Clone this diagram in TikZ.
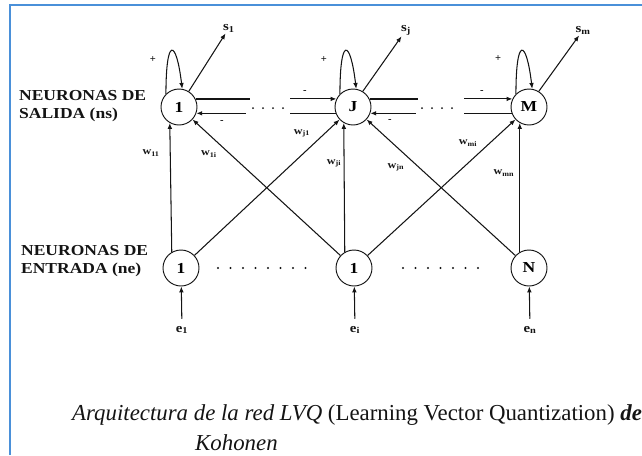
\documentclass[tikz,border=0pt]{standalone}
\usepackage{fontspec}
\setmainfont{Liberation Serif}
\newfontfamily\widefont[FakeStretch=1.15]{Liberation Serif}
\usetikzlibrary{arrows.meta,calc}
\definecolor{ink}{HTML}{141414}
\definecolor{frame}{HTML}{4A90D9}

\begin{document}
\begin{tikzpicture}[x=0.3mm,y=-0.3mm,>={Latex[length=5pt,width=4pt]},
  neuron/.style={circle,draw=ink,line width=0.8pt,minimum size=10.8mm,inner sep=0pt,
    font=\widefont\bfseries\fontsize{13}{15}\selectfont},
  tag/.style={font=\widefont\bfseries\fontsize{13}{15}\selectfont,text=ink,align=left,anchor=west},
  sub/.style={font=\widefont\bfseries\fontsize{11}{13}\selectfont,text=ink,inner sep=1pt},
  wlab/.style={font=\widefont\bfseries\fontsize{9}{10}\selectfont,text=ink,inner sep=0pt},
  sign/.style={font=\bfseries\fontsize{9}{10}\selectfont,text=ink,inner sep=0pt},
  link/.style={draw=ink,line width=0.9pt},
  lat/.style={draw=ink,line width=1.7pt},
  capt/.style={font=\fontsize{19.5}{23}\selectfont,text=ink,anchor=west,inner sep=0pt}]
\useasboundingbox (0,0) rectangle (642,455);
\draw[frame,line width=2.2pt] (10,455) -- (10,5) -- (642,5);

\foreach \nm/\xx/\tx in {out1/179/1,outj/353/J,outm/529/M}
  \node[neuron] (\nm) at (\xx,107) {\tx};
\foreach \nm/\xx/\tx in {in1/181/1,ini/354/1,inn/529/N}
  \node[neuron] (\nm) at (\xx,268) {\tx};

\node[tag] (lout) at (15,106) {NEURONAS DE\\SALIDA (ns)};
\node[tag] (lin) at (17,261) {NEURONAS DE\\ENTRADA (ne)};

\node[sub] (s1) at (229,28) {s\textsubscript{1}};
\node[sub] (sj) at (406,30) {s\textsubscript{j}};
\node[sub] (sm) at (583,30) {s\textsubscript{m}};
\foreach \nm/\ss in {out1/s1,outj/sj,outm/sm}{
  \draw[link,->] (\nm.58) -- (\ss);
  \draw[link,->] (\nm.135) .. controls +(0,-58) and +(-6,-50) .. (\nm.80);
}
\node[sign] (p1) at (153,60) {+};
\node[sign] (pj) at (324,60) {+};
\node[sign] (pm) at (498,59) {+};

\draw[lat] (out1.26) -- ++(54,0);
\draw[link,<-] (out1.-20) -- ++(50,0);
\draw[link,<-] (outj.154) -- ++(-46,0);
\draw[link] (outj.200) -- ++(-46,0);
\draw[lat] (outj.26) -- ++(48,0);
\draw[link,<-] (outj.-20) -- ++(46,0);
\draw[link,<-] (outm.154) -- ++(-48,0);
\draw[link] (outm.200) -- ++(-48,0);
\node[sign] (m1) at (222,122) {-};
\node[sign] (m2) at (305,92) {-};
\node[sign] (m3) at (390,121) {-};
\node[sign] (m4) at (482,92) {-};
\foreach \xx in {253,263,273,283,422,432,442,452}
  \fill[ink] (\xx,108) circle (1);
\foreach \k in {0,...,7}
  \fill[ink] ({218+12.5*\k},268) circle (1.1);
\foreach \k in {0,...,6}
  \fill[ink] ({403+12.5*\k},268) circle (1.1);

\draw[link,->] (in1.120) -- (out1.240);
\draw[link,->] (ini.120) -- (outj.240);
\draw[link,->] (inn.120) -- (outm.240);
\draw[link,->] (ini) -- (out1);
\draw[link,->] (in1) -- (outj);
\draw[link,->] (inn) -- (outj);
\draw[link,->] (ini) -- (outm);
\node[wlab] (w11) at (151,153) {w\textsubscript{11}};
\node[wlab] (w1i) at (209,154) {w\textsubscript{1i}};
\node[wlab] (wj1) at (302,133) {w\textsubscript{j1}};
\node[wlab] (wji) at (334,163) {w\textsubscript{ji}};
\node[wlab] (wjn) at (396,167) {w\textsubscript{jn}};
\node[wlab] (wmi) at (468,143) {w\textsubscript{mi}};
\node[wlab] (wmn) at (504,173) {w\textsubscript{mn}};

\node[sub] (e1) at (182,330) {e\textsubscript{1}};
\node[sub] (ei) at (355,330) {e\textsubscript{i}};
\node[sub] (en) at (530,330) {e\textsubscript{n}};
\foreach \ee/\nm in {e1/in1,ei/ini,en/inn}
  \draw[link,->,shorten <=5pt] (\ee) -- (\nm);

\node[capt] (cap1) at (72,415) {\textit{Arquitectura de la red LVQ} (Learning Vector Quantization) \textbf{\textit{de}}};
\node[capt] (cap2) at (195,443) {\textit{Kohonen}};
\end{tikzpicture}
\end{document}
